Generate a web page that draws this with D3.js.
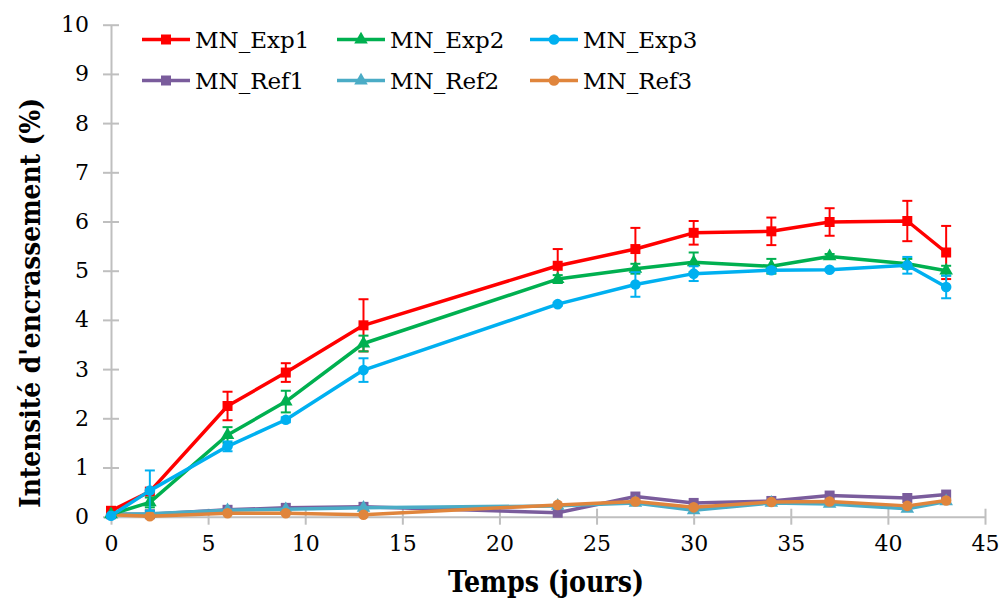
<!DOCTYPE html>
<html><head><meta charset="utf-8">
<script src="https://cdn.jsdelivr.net/npm/d3@7"></script>
<style>body{margin:0;background:#fff}svg{display:block}</style>
</head><body><svg id="c" width="1003" height="602"></svg>
<script>
const days = [0, 2, 6, 9, 13, 23, 27, 30, 34, 37, 41, 43];
const exp1 = [0.12, 0.51, 2.25, 2.93, 3.89, 5.10, 5.44, 5.77, 5.80, 5.99, 6.01, 5.37];
const exp1Err = [0.0, 0.0, 0.29, 0.19, 0.53, 0.34, 0.43, 0.24, 0.28, 0.28, 0.41, 0.54];
const exp2 = [0.05, 0.29, 1.66, 2.34, 3.52, 4.83, 5.04, 5.17, 5.09, 5.29, 5.14, 5.00];
const exp2Err = [0.0, 0.10, 0.16, 0.22, 0.16, 0.08, 0.10, 0.20, 0.15, 0.05, 0.10, 0.10];
const exp3 = [0.02, 0.53, 1.43, 1.97, 2.98, 4.32, 4.72, 4.94, 5.01, 5.02, 5.11, 4.67];
const exp3Err = [0.0, 0.41, 0.10, 0.05, 0.24, 0.03, 0.25, 0.15, 0.05, 0.02, 0.17, 0.23];
const ref1 = [0.05, 0.05, 0.14, 0.18, 0.20, 0.08, 0.41, 0.28, 0.32, 0.43, 0.38, 0.45];
const ref2 = [0.05, 0.06, 0.13, 0.15, 0.18, 0.22, 0.28, 0.13, 0.28, 0.26, 0.16, 0.31];
const ref3 = [0.04, 0.01, 0.07, 0.07, 0.04, 0.24, 0.31, 0.19, 0.30, 0.31, 0.22, 0.33];
const xTicks = [0, 5, 10, 15, 20, 25, 30, 35, 40, 45];
const yTicks = [0, 1, 2, 3, 4, 5, 6, 7, 8, 9, 10];
const seriesNames = ["MN_Exp1", "MN_Exp2", "MN_Exp3", "MN_Ref1", "MN_Ref2", "MN_Ref3"];
const xTitle = "Temps (jours)";
const yTitle = "Intensité d'encrassement (%)";

const series = [
  {name: seriesNames[0], v: exp1, e: exp1Err, color: "#FF0000", sym: "square"},
  {name: seriesNames[1], v: exp2, e: exp2Err, color: "#00B050", sym: "triangle"},
  {name: seriesNames[2], v: exp3, e: exp3Err, color: "#00B0F0", sym: "circle"},
  {name: seriesNames[3], v: ref1, e: null, color: "#7A5C9C", sym: "square"},
  {name: seriesNames[4], v: ref2, e: null, color: "#4BACC6", sym: "triangle"},
  {name: seriesNames[5], v: ref3, e: null, color: "#E0853C", sym: "circle"}
];

const svg = d3.select("#c");
const x = d3.scaleLinear().domain([0, 45]).range([111, 985]);
const y = d3.scaleLinear().domain([0, 10]).range([516.7, 24.7]);
const font = "DejaVu Serif, serif";
const axisColor = "#BFBFBF";

// Y axis
const gy = svg.append("g").attr("transform", `translate(${x(0)},0)`)
  .call(d3.axisLeft(y).tickValues(yTicks).tickSize(0).tickPadding(22).tickFormat(d3.format("d")));
gy.attr("font-family", font);
gy.select(".domain").attr("stroke", axisColor).attr("stroke-width", 2);
gy.selectAll(".tick text").attr("font-family", font).attr("font-size", 22).attr("fill", "#000");
gy.selectAll(".tick").append("line").attr("x1", -8).attr("x2", 8).attr("stroke", axisColor).attr("stroke-width", 2);

// X axis
const gx = svg.append("g").attr("transform", `translate(0,${y(0)})`)
  .call(d3.axisBottom(x).tickValues(xTicks).tickSize(0).tickPadding(19).tickFormat(d3.format("d")));
gx.attr("font-family", font);
gx.select(".domain").attr("stroke", axisColor).attr("stroke-width", 2);
gx.selectAll(".tick text").attr("font-family", font).attr("font-size", 22).attr("fill", "#000");
gx.selectAll(".tick").append("line").attr("y1", -8).attr("y2", 8).attr("stroke", axisColor).attr("stroke-width", 2);

// titles
svg.append("text").attr("x", 546).attr("y", 592).attr("text-anchor", "middle")
  .attr("font-family", font).attr("font-weight", "bold").attr("font-size", 30)
  .attr("textLength", 196).attr("lengthAdjust", "spacingAndGlyphs").text(xTitle);
svg.append("text").attr("transform", "translate(40,303) rotate(-90)").attr("text-anchor", "middle")
  .attr("font-family", font).attr("font-weight", "bold").attr("font-size", 27)
  .attr("textLength", 410).attr("lengthAdjust", "spacingAndGlyphs").text(yTitle);

const line = d3.line().x((d, i) => x(days[i])).y(d => y(d));
const symSize = {square: 100, triangle: 80, circle: 88};
const symType = {square: d3.symbolSquare, triangle: d3.symbolTriangle, circle: d3.symbolCircle};

const order = [3, 4, 5, 0, 1, 2];
order.forEach(k => {
  const s = series[k];
  const g = svg.append("g");
  g.append("path").datum(s.v).attr("d", line).attr("fill", "none")
    .attr("stroke", s.color).attr("stroke-width", 3.5).attr("stroke-linejoin", "round");
  if (s.e) {
    s.v.forEach((v, i) => {
      const e = s.e[i];
      if (e <= 0) return;
      const cx = x(days[i]), t = y(v + e), b = y(v - e);
      g.append("line").attr("x1", cx).attr("x2", cx).attr("y1", t).attr("y2", b).attr("stroke", s.color).attr("stroke-width", 2);
      [t, b].forEach(yy => g.append("line").attr("x1", cx - 5).attr("x2", cx + 5).attr("y1", yy).attr("y2", yy).attr("stroke", s.color).attr("stroke-width", 2));
    });
  }
  g.selectAll("path.m").data(s.v).join("path").attr("class", "m")
    .attr("transform", (d, i) => `translate(${x(days[i])},${y(d)})`)
    .attr("d", d3.symbol().type(symType[s.sym]).size(symSize[s.sym]))
    .attr("fill", s.color);
});

// legend
const legCols = [142, 337, 530];
const legRows = [39.5, 80.5];
series.forEach((s, k) => {
  const lx = legCols[k % 3], ly = legRows[Math.floor(k / 3)];
  const g = svg.append("g");
  g.append("line").attr("x1", lx).attr("x2", lx + 48).attr("y1", ly).attr("y2", ly)
    .attr("stroke", s.color).attr("stroke-width", 3.5);
  g.append("path").attr("transform", `translate(${lx + 24},${ly})`)
    .attr("d", d3.symbol().type(symType[s.sym]).size(symSize[s.sym])).attr("fill", s.color);
  g.append("text").attr("x", lx + 53).attr("y", ly + 8.5).attr("font-family", font)
    .attr("font-size", 23).attr("fill", "#000").text(s.name);
});
</script></body></html>
